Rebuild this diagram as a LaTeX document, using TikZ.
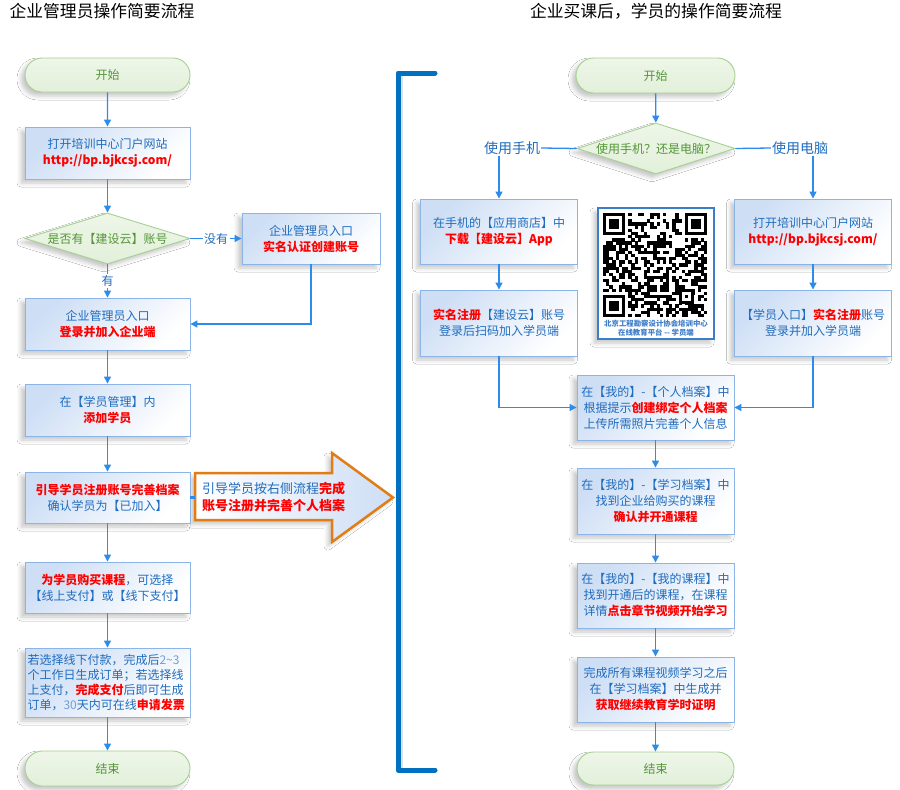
\documentclass[tikz,border=0pt]{standalone}
\usepackage{fontspec}
\setmainfont{Noto Sans CJK SC}
\usetikzlibrary{arrows.meta,shapes.geometric,shapes.misc,shadows.blur}
\definecolor{txtblue}{RGB}{32,108,190}
\definecolor{txtred}{RGB}{255,0,0}
\definecolor{numblue}{RGB}{110,160,215}
\definecolor{txtgreen}{RGB}{84,150,56}
\definecolor{lineblue}{RGB}{45,140,235}
\definecolor{boxborder}{RGB}{140,180,230}
\definecolor{boxfill}{RGB}{205,222,245}
\definecolor{termfill}{RGB}{226,240,218}
\definecolor{termfilltop}{RGB}{238,246,232}
\definecolor{termborder}{RGB}{165,208,145}
\definecolor{arroworange}{RGB}{225,125,20}
\definecolor{bracketblue}{RGB}{0,112,192}
\definecolor{qrblue}{RGB}{60,125,200}
\newcommand\redb[1]{{\bfseries\color{txtred}#1}}
\newcommand\numc[1]{{\color{numblue}#1}}
\begin{document}
\begin{tikzpicture}[x=1pt,y=-1pt,
  shd/.style={blur shadow={shadow xshift=-4pt,shadow yshift=-4pt,shadow blur radius=4pt,shadow opacity=22}},
  box/.style={shd, rectangle, draw=boxborder, line width=0.9pt, top color=boxfill, bottom color=white, shading angle=45, inner sep=0pt, align=center, text=txtblue, font=\fontsize{12pt}{16pt}\selectfont},
  lbox/.style={box, minimum width=165pt, minimum height=52pt},
  rbox/.style={box, minimum width=157pt, minimum height=65pt},
  term/.style={shd, rounded rectangle, draw=termborder, line width=0.9pt, top color=termfilltop, bottom color=termfill, text=txtgreen, inner sep=0pt, font=\fontsize{12pt}{14pt}\selectfont},
  dia/.style={shd, diamond, draw=termborder, line width=0.9pt, top color=termfilltop, bottom color=termfill, inner sep=0pt},
  dtext/.style={text=txtgreen, inner sep=0pt, font=\fontsize{12pt}{14pt}\selectfont},
  conn/.style={draw=lineblue, line width=1.3pt, -{Triangle[length=7pt,width=7pt]}},
  plain/.style={draw=lineblue, line width=1.3pt},
  edgelab/.style={fill=white, inner sep=1.5pt, text=txtblue, font=\fontsize{12pt}{14pt}\selectfont},
  sidelab/.style={inner sep=1pt, text=txtblue, font=\fontsize{14pt}{16pt}\selectfont},
  ttl/.style={font=\fontsize{16.8pt}{18pt}\selectfont, text=black, inner sep=0pt}
]
\useasboundingbox (0,0) rectangle (900,790);
\fill[white] (0,0) rectangle (900,790);

% titles
\node[ttl] (t1) at (102,11) {企业管理员操作简要流程};
\node[ttl] (t2) at (656,11) {企业买课后，学员的操作简要流程};

% bracket
\draw[line width=4pt, black, opacity=0.12] (401,76) -- (401,772);
\draw[line width=5pt, bracketblue, line cap=round, line join=round] (435,73) -- (398,73) -- (398,770) -- (435,770);

% big arrow
\path[shd, draw=arroworange, line width=2.5pt, line join=miter, left color=white, right color=boxfill] (195,473) -- (332,473) -- (332,453) -- (393,497.5) -- (332,542) -- (332,520) -- (195,520) -- cycle;
\coordinate (atail) at (195,497.5);
\node[anchor=west, align=left, inner sep=0pt, text=txtblue, font=\fontsize{13pt}{17pt}\selectfont] (atext) at (202,497.5) {引导学员按右侧流程\redb{完成}\\\redb{账号注册并完善个人档案}};

% left column
\node[term, minimum width=165pt, minimum height=34pt] (ls) at (107.5,75) {开始};
\node[lbox] (b1) at (107.5,153) {打开培训中心门户网站\\\redb{http://bp.bjkcsj.com/}};
\node[dia, minimum width=165pt, minimum height=51pt, label={[dtext]center:是否有【建设云】账号}] (d1) at (107.5,238.5) {};
\node[box, minimum width=138pt, minimum height=51pt] (b2) at (311,238.5) {企业管理员入口\\\redb{实名认证创建账号}};
\node[lbox] (b3) at (107.5,324) {企业管理员入口\\\redb{登录并加入企业端}};
\node[lbox] (b4) at (107.5,410) {在【学员管理】内\\\redb{添加学员}};
\node[lbox, minimum height=51pt] (b5) at (107.5,497.5) {\redb{引导学员注册账号完善档案}\\确认学员为【已加入】};
\node[lbox, minimum height=51pt] (b6) at (107.5,587.5) {\redb{为学员购买课程}，可选择\\【线上支付】或【线下支付】};
\node[lbox, minimum height=69pt, text width=160pt, align=left, font=\fontsize{12pt}{15.3pt}\selectfont] (b7) at (107.5,682.5) {若选择线下付款，完成后\numc{2\textasciitilde3}\\个工作日生成订单；若选择线\\上支付，\redb{完成支付}后即可生成\\订单，\numc{30}天内可在线\redb{申请发票}};
\node[term, minimum width=165pt, minimum height=35pt] (le) at (107.5,768.5) {结束};

\draw[conn] (ls) -- (b1);
\draw[conn] (b1) -- (d1);
\draw[conn] (d1.east) -- node[edgelab]{没有} (b2.west);
\draw[conn] (d1.south) -- node[edgelab]{有} (b3.north);
\draw[conn] (b2.south) |- (b3.east);
\draw[conn] (b3) -- (b4);
\draw[conn] (b4) -- (b5);
\draw[conn] (b5) -- (b6);
\draw[conn] (b6) -- (b7);
\draw[conn] (b7) -- (le);
\draw[draw=lineblue, line width=3pt] (b5.east) -- (atail);

% right column
\node[term, minimum width=159pt, minimum height=35pt] (rs) at (655.5,75.5) {开始};
\node[dia, minimum width=158pt, minimum height=51pt, label={[dtext]center:使用手机？还是电脑？}] (rd) at (656,148.5) {};
\node[sidelab] (lp) at (512,148) {使用手机};
\node[sidelab] (lc) at (800,148) {使用电脑};
\node[rbox] (pb1) at (499,231.5) {在手机的【应用商店】中\\\redb{下载【建设云】App}};
\node[rbox, minimum height=66pt] (pb2) at (499,323) {\redb{实名注册}【建设云】账号\\登录后扫码加入学员端};
\node[rbox] (cb1) at (813,231.5) {打开培训中心门户网站\\\redb{http://bp.bjkcsj.com/}};
\node[rbox, minimum height=66pt] (cb2) at (813,323) {【学员入口】\redb{实名注册}账号\\登录并加入学员端};

% QR code
\node[shd, draw=qrblue, line width=1.5pt, fill=white, minimum width=116pt, minimum height=131pt, inner sep=0pt] (qr) at (656,273.5) {};
\def\qx{603}\def\qy{213}\def\qm{3.15}
\pgfmathsetseed{2024}
\foreach \i in {0,...,32}{
  \foreach \j in {0,...,32}{
    \pgfmathrandominteger{\rr}{0}{1}
    \ifnum\rr=1 \fill[black] (\qx+\i*\qm,\qy+\j*\qm) rectangle ++(\qm+0.15,\qm+0.15);\fi
  }
}
\foreach \a/\b/\wa/\wb in {0/0/0/0,26/0/25/0,0/26/0/25}{
  \fill[white] (\qx+\wa*\qm,\qy+\wb*\qm) rectangle ++(8*\qm,8*\qm);
  \fill[black] (\qx+\a*\qm,\qy+\b*\qm) rectangle ++(7*\qm,7*\qm);
  \fill[white] (\qx+\a*\qm+\qm,\qy+\b*\qm+\qm) rectangle ++(5*\qm,5*\qm);
  \fill[black] (\qx+\a*\qm+2*\qm,\qy+\b*\qm+2*\qm) rectangle ++(3*\qm,3*\qm);
}
\fill[black] (\qx+24*\qm,\qy+24*\qm) rectangle ++(5*\qm,5*\qm);
\fill[white] (\qx+25*\qm,\qy+25*\qm) rectangle ++(3*\qm,3*\qm);
\fill[black] (\qx+26*\qm,\qy+26*\qm) rectangle ++(\qm,\qm);
\node[text=qrblue, font=\fontsize{7.4pt}{9pt}\selectfont\bfseries, align=center, inner sep=0pt] (qrcap) at (656,328) {北京工程勘察设计协会培训中心\\在线教育平台 -{}- 学员端};

\node[rbox] (m1) at (655.5,407.5) {在【我的】-【个人档案】中\\根据提示\redb{创建绑定个人档案}\\上传所需照片完善个人信息};
\node[rbox, minimum height=66pt] (m2) at (655.5,501) {在【我的】-【学习档案】中\\找到企业给购买的课程\\\redb{确认并开通课程}};
\node[rbox] (m3) at (655.5,595.5) {在【我的】-【我的课程】中\\找到开通后的课程，在课程\\详情\redb{点击章节视频开始学习}};
\node[rbox] (m4) at (655.5,689.5) {完成所有课程视频学习之后\\在【学习档案】中生成并\\\redb{获取继续教育学时证明}};
\node[term, minimum width=157pt, minimum height=33pt] (re) at (655.5,768.5) {结束};

\draw[conn] (rs) -- (rd);
\draw[plain] (rd.west) -- (lp.east);
\draw[plain] (rd.east) -- (lc.west);
\draw[conn] (lp.south -| pb1.north) -- (pb1.north);
\draw[conn] (lc.south -| cb1.north) -- (cb1.north);
\draw[conn] (pb1) -- (pb2);
\draw[conn] (cb1) -- (cb2);
\draw[conn] (pb2.south) |- (m1.west);
\draw[conn] (cb2.south) |- (m1.east);
\draw[conn] (m1) -- (m2);
\draw[conn] (m2) -- (m3);
\draw[conn] (m3) -- (m4);
\draw[conn] (m4) -- (re);
\end{tikzpicture}
\end{document}
